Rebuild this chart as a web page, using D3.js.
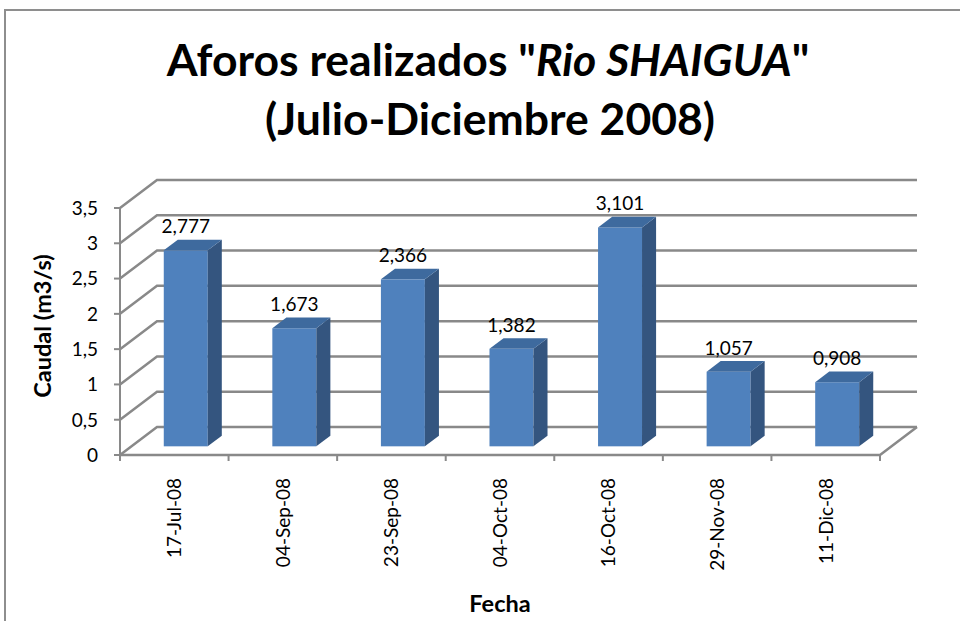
<!DOCTYPE html>
<html>
<head>
<meta charset="utf-8">
<script src="https://cdn.jsdelivr.net/npm/d3@7"></script>
<style>
  body { margin: 0; background: #fff; }
  svg { display: block; font-family: Lato, "Open Sans", sans-serif; }
</style>
</head>
<body>
<svg id="chart"></svg>
<script>
// data
const fechas = ['17-Jul-08', '04-Sep-08', '23-Sep-08', '04-Oct-08', '16-Oct-08', '29-Nov-08', '11-Dic-08'];
const caudal = [2.777, 1.673, 2.366, 1.382, 3.101, 1.057, 0.908];
const yTicks = [0, 0.5, 1, 1.5, 2, 2.5, 3, 3.5];

const width = 960, height = 621;

const es = d3.formatLocale({decimal: ',', thousands: '.', grouping: [3], currency: ['', '']});
const fmtTick = es.format('~g'),
  fmtVal = es.format('.3f');

const svg = d3.select('#chart')
  .attr('width', width)
  .attr('height', height);

// outer chart frame
svg.append('rect')
  .attr('x', 5).attr('y', 10)
  .attr('width', 1000).attr('height', 700)
  .attr('fill', 'none')
  .attr('stroke', '#8e8e8e')
  .attr('stroke-width', 2);

// front plane scales + oblique depth offset
const x = d3.scaleBand().domain(fechas).range([120, 880]);
const y = d3.scaleLinear().domain([0, 3.5]).range([455, 208]);
const depthX = 37, depthY = -28;
const f1 = 0.31, f2 = 0.69;   // bar front / back in depth

const grid = svg.append('g')
  .attr('fill', 'none')
  .attr('stroke', '#898989')
  .attr('stroke-width', 2.5);

// left wall diagonals and back wall lines
yTicks.forEach(function (t) {
  grid.append('path')
    .attr('d', 'M' + x.range()[0] + ',' + y(t) +
      'L' + (x.range()[0] + depthX) + ',' + (y(t) + depthY) +
      'L' + (x.range()[1] + depthX) + ',' + (y(t) + depthY));
});

// floor front + right edge
grid.append('path')
  .attr('d', 'M' + x.range()[0] + ',' + y(0) +
    'L' + x.range()[1] + ',' + y(0) +
    'L' + (x.range()[1] + depthX) + ',' + (y(0) + depthY));

// value axis
const axisG = svg.append('g')
  .attr('stroke', '#898989')
  .attr('stroke-width', 2);
axisG.append('line')
  .attr('x1', 120).attr('x2', 120)
  .attr('y1', y(3.5)).attr('y2', y(0));
axisG.selectAll('.yt')
  .data(yTicks)
  .enter().append('line')
  .attr('x1', 114).attr('x2', 120)
  .attr('y1', d => y(d)).attr('y2', d => y(d));
axisG.selectAll('.xt')
  .data(d3.range(fechas.length + 1))
  .enter().append('line')
  .attr('x1', d => x.range()[0] + d * x.step())
  .attr('x2', d => x.range()[0] + d * x.step())
  .attr('y1', y(0)).attr('y2', y(0) + 6);

svg.selectAll('.ytl')
  .data(yTicks)
  .enter().append('text')
  .attr('x', 98)
  .attr('y', d => y(d))
  .attr('dy', '0.36em')
  .attr('text-anchor', 'end')
  .attr('font-size', 19)
  .attr('fill', '#000')
  .text(d => fmtTick(d));

// bars
const bw = x.bandwidth() * 0.405;
const bars = svg.selectAll('.bar')
  .data(fechas.map((f, i) => ({fecha: f, v: caudal[i]})))
  .enter().append('g');

function frontX(d) { return x(d.fecha) + x.bandwidth() / 2 - bw / 2 + depthX * f1; }
function dx() { return depthX * (f2 - f1); }
function dy() { return depthY * (f2 - f1); }

bars.append('rect')
  .attr('x', frontX)
  .attr('y', d => y(d.v) + depthY * f1)
  .attr('width', bw)
  .attr('height', d => y(0) - y(d.v))
  .attr('fill', '#4f81bd');

bars.append('path')  // side
  .attr('d', function (d) {
    let x0 = frontX(d) + bw, yt = y(d.v) + depthY * f1, yb = y(0) + depthY * f1;
    return 'M' + x0 + ',' + yt + 'L' + (x0 + dx()) + ',' + (yt + dy()) +
      'L' + (x0 + dx()) + ',' + (yb + dy()) + 'L' + x0 + ',' + yb + 'Z';
  })
  .attr('fill', '#34557f');

bars.append('path')  // top
  .attr('d', function (d) {
    let x0 = frontX(d), yt = y(d.v) + depthY * f1;
    return 'M' + x0 + ',' + yt + 'L' + (x0 + bw) + ',' + yt +
      'L' + (x0 + bw + dx()) + ',' + (yt + dy()) + 'L' + (x0 + dx()) + ',' + (yt + dy()) + 'Z';
  })
  .attr('fill', '#3e6a9e');

// data labels
bars.append('text')
  .attr('x', d => frontX(d) + bw / 2)
  .attr('y', d => y(d.v) + depthY * f1 - 17)
  .attr('text-anchor', 'middle')
  .attr('font-size', 19)
  .text(d => fmtVal(d.v));

// category labels
svg.selectAll('.xl')
  .data(fechas)
  .enter().append('text')
  .attr('transform', d => 'translate(' + (x(d) + x.bandwidth() / 2) + ',478)rotate(-90)')
  .attr('dy', '0.36em')
  .attr('text-anchor', 'end')
  .attr('font-size', 19)
  .text(d => d);

// titles
const title = svg.append('text')
  .attr('text-anchor', 'middle')
  .attr('font-weight', 'bold')
  .attr('font-size', 44.5);
let l1 = title.append('tspan').attr('x', 488).attr('y', 76);
l1.append('tspan').text('Aforos realizados "');
l1.append('tspan').attr('font-style', 'italic').text('Rio SHAIGUA');
l1.append('tspan').text('"');
title.append('tspan').attr('x', 490).attr('y', 135).text('(Julio-Diciembre 2008)');

svg.append('text')
  .attr('transform', 'translate(51,326)rotate(-90)')
  .attr('text-anchor', 'middle')
  .attr('font-weight', 'bold')
  .attr('font-size', 23.5)
  .text('Caudal (m3/s)');

svg.append('text')
  .attr('x', 500).attr('y', 612)
  .attr('text-anchor', 'middle')
  .attr('font-weight', 'bold')
  .attr('font-size', 23.5)
  .text('Fecha');
</script>
</body>
</html>
